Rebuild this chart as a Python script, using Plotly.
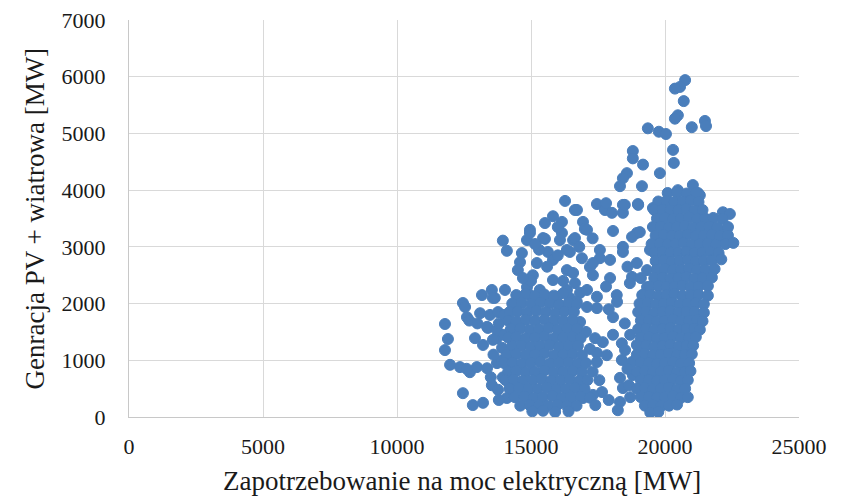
import plotly.graph_objects as go

# (demand MW, PV + wind generation MW)
top_points = [
    (20750, 5940), (20560, 5820), (20370, 5790), (20700, 5570), (20480, 5320), (20370, 5260),
    (21000, 5110), (21490, 5220), (21530, 5130), (19360, 5090), (19770, 5030), (20035, 4990),
    (20300, 4710), (20330, 4480), (18800, 4690), (18800, 4560), (19180, 4450), (19810, 4300),
    (18580, 4300), (18430, 4210), (18320, 4070), (19140, 4070), (20480, 4000), (21040, 4090),
    (21230, 3950), (21300, 3910),
]

upper_mid = [
    (16270, 3810), (16640, 3650), (15820, 3540), (15520, 3420), (16155, 3440), (14960, 3300),
    (14850, 3120), (13950, 3110), (14100, 2930), (15520, 3140), (15630, 2910), (14660, 2890),
    (14590, 2730), (14510, 2590), (15220, 2715), (15070, 2500), (15820, 2770), (16340, 2590),
    (15820, 2415), (16340, 2240), (16640, 2360), (16570, 3120), (16450, 2910), (16155, 3245),
    (14850, 2290), (14030, 2240), (13540, 2240), (13170, 2150), (13650, 2100), (12460, 2010),
    (14960, 2150), (15330, 2240), (15450, 2100), (15970, 2120), (16450, 2100),
    (17460, 3755), (18430, 3740), (18990, 3755), (17760, 3650), (18020, 3600), (18430, 3600),
    (16715, 3650), (16940, 3440), (17010, 3315), (18060, 3280), (18950, 3245), (18770, 3175),
    (16640, 3155), (18430, 3000), (18430, 2910), (17570, 2945), (17570, 2800), (17950, 2770),
    (17200, 2645), (17310, 2500), (17950, 2450), (18770, 2470), (18690, 2360), (19330, 2590),
    (18950, 2715), (19440, 2945), (16830, 2190), (17460, 2120), (19330, 2290), (19180, 2150),
    (17800, 3770), (18500, 3740), (19000, 3740), (19550, 3685), (19060, 3260),
    (22160, 3610), (22420, 3580), (22300, 3300),
    (14960, 3245), (15450, 3155), (16080, 3120), (16340, 2945), (17090, 3300), (17310, 2715),
    (16570, 2540), (17090, 2240), (15300, 2950), (15600, 2650), (16000, 2850), (16900, 2800),
    (16200, 2400), (15000, 2400), (14700, 2450), (17800, 2300), (18200, 2150), (16000, 3350),
    (15150, 3050), (16800, 3000), (17300, 3150), (18600, 2650), (19100, 2450),
]

mid_sparse = [
    (18210, 2030), (16710, 2030), (17460, 1920), (16830, 1675), (16710, 1570), (17390, 1390),
    (17680, 1320), (18060, 1450), (18390, 1300), (18510, 1180), (17460, 1130), (17460, 970),
    (17830, 1090), (18390, 1005), (18320, 690), (18430, 510), (18320, 265), (18240, 120),
    (17650, 440), (17310, 390), (16940, 335), (16570, 210), (18950, 1270), (18770, 970),
    (18800, 740), (18060, 1760), (17090, 1940), (17900, 1900), (18600, 850), (18650, 560),
    (18700, 350), (17900, 300), (17550, 650), (17300, 800), (18500, 1650), (18700, 1450),
    (17050, 1500), (17200, 1200),
]

left_fringe = [
    (11790, 1640), (11900, 1375), (11790, 1180), (12540, 1940), (12610, 1760), (13100, 1830),
    (13470, 1800), (13770, 1850), (12910, 1390), (13210, 1270), (13390, 1570), (13730, 1390),
    (13920, 1220), (11980, 920), (12350, 880), (12720, 790), (12980, 880), (13360, 860),
    (13730, 950), (14140, 1040), (12460, 420), (12830, 210), (13210, 250), (13540, 560),
    (13770, 480), (14100, 335), (14220, 510), (13580, 2100), (13360, 1590), (13730, 1530),
    (13580, 1360), (13800, 1650), (13900, 1000), (13600, 1100), (13500, 700), (13800, 300),
    (12700, 1700), (13000, 1650), (14000, 1800), (14000, 1450), (13950, 700), (12600, 850),
]

left_core = [
    (14450, 2150), (14800, 2170), (15150, 2130), (15500, 2160), (15850, 2140), (16200, 2180),
    (14300, 2000), (14650, 2010), (15000, 1990), (15350, 2020), (15700, 2000), (16050, 1980),
    (16400, 2010), (16700, 1990),
    (14200, 1850), (14500, 1860), (14850, 1840), (15200, 1870), (15550, 1850), (15900, 1830),
    (16250, 1860), (16600, 1850),
    (14150, 1700), (14450, 1690), (14800, 1710), (15150, 1700), (15500, 1720), (15850, 1690),
    (16200, 1700), (16550, 1710),
    (14250, 1550), (14600, 1560), (14950, 1540), (15300, 1550), (15650, 1570), (16000, 1540),
    (16350, 1560), (16700, 1550),
    (14150, 1400), (14450, 1410), (14800, 1390), (15150, 1400), (15500, 1420), (15850, 1390),
    (16200, 1400), (16550, 1410), (16850, 1390),
    (14300, 1250), (14650, 1260), (15000, 1240), (15350, 1250), (15700, 1270), (16050, 1240),
    (16400, 1250), (16750, 1260),
    (14100, 1100), (14450, 1110), (14800, 1090), (15150, 1100), (15500, 1120), (15850, 1090),
    (16200, 1100), (16550, 1110), (16900, 1090),
    (14000, 950), (14300, 960), (14650, 940), (15000, 950), (15350, 970), (15700, 940),
    (16050, 950), (16400, 960), (16750, 940), (17050, 950),
    (14150, 800), (14450, 810), (14800, 790), (15150, 800), (15500, 820), (15850, 790),
    (16200, 800), (16550, 810), (16900, 790),
    (14050, 650), (14350, 660), (14700, 640), (15050, 650), (15400, 670), (15750, 640),
    (16100, 650), (16450, 660), (16800, 640), (17100, 650),
    (14200, 500), (14550, 510), (14900, 490), (15250, 500), (15600, 520), (15950, 490),
    (16300, 500), (16650, 510), (17000, 490),
    (14400, 350), (14750, 360), (15100, 340), (15450, 350), (15800, 370), (16150, 340),
    (16500, 350), (16850, 360), (17200, 340),
    (14600, 200), (14950, 210), (15300, 190), (15650, 200), (16000, 220), (16350, 190),
    (16700, 200), (17400, 210),
    (15050, 100), (15450, 110), (15900, 90), (16400, 100),
]

right_core = [
    (20100, 3950), (20450, 3960), (20800, 3940), (21150, 3950),
    (19750, 3800), (20050, 3810), (20350, 3790), (20650, 3800), (20950, 3820), (21250, 3790),
    (19600, 3650), (19900, 3660), (20200, 3640), (20500, 3650), (20800, 3670), (21100, 3640), (21400, 3650),
    (19700, 3500), (20000, 3510), (20300, 3490), (20600, 3500), (20900, 3520), (21200, 3490),
    (21500, 3500), (21800, 3510), (22150, 3490),
    (19550, 3350), (19850, 3360), (20150, 3340), (20450, 3350), (20750, 3370), (21050, 3340),
    (21350, 3350), (21650, 3360), (21950, 3340), (22350, 3350),
    (19650, 3200), (19950, 3210), (20250, 3190), (20550, 3200), (20850, 3220), (21150, 3190),
    (21450, 3200), (21750, 3210), (22050, 3190), (22350, 3200),
    (19500, 3050), (19800, 3060), (20100, 3040), (20400, 3050), (20700, 3070), (21000, 3040),
    (21300, 3050), (21600, 3060), (21900, 3040), (22250, 3050), (22550, 3070),
    (19600, 2900), (19900, 2910), (20200, 2890), (20500, 2900), (20800, 2920), (21100, 2890),
    (21400, 2900), (21700, 2910), (22000, 2890),
    (19650, 2750), (19950, 2760), (20250, 2740), (20550, 2750), (20850, 2770), (21150, 2740),
    (21450, 2750), (21750, 2760), (22100, 2780),
    (19700, 2600), (20000, 2610), (20300, 2590), (20600, 2600), (20900, 2620), (21200, 2590),
    (21500, 2600), (21850, 2610),
    (19600, 2450), (19900, 2460), (20200, 2440), (20500, 2450), (20800, 2470), (21100, 2440),
    (21400, 2450), (21750, 2460),
    (19450, 2300), (19750, 2310), (20050, 2290), (20350, 2300), (20650, 2320), (20950, 2290),
    (21250, 2300), (21600, 2310),
    (19150, 2150), (19450, 2160), (19750, 2140), (20050, 2150), (20350, 2170), (20650, 2140),
    (20950, 2150), (21250, 2160), (21600, 2140),
    (19050, 2000), (19350, 2010), (19650, 1990), (19950, 2000), (20250, 2020), (20550, 1990),
    (20850, 2000), (21150, 2010), (21450, 1990),
    (19000, 1850), (19300, 1860), (19600, 1840), (19900, 1850), (20200, 1870), (20500, 1840),
    (20800, 1850), (21100, 1860), (21450, 1840),
    (19100, 1700), (19400, 1710), (19700, 1690), (20000, 1700), (20300, 1720), (20600, 1690),
    (20900, 1700), (21200, 1710), (21400, 1690),
    (19000, 1550), (19300, 1560), (19600, 1540), (19900, 1550), (20200, 1570), (20500, 1540),
    (20800, 1550), (21100, 1560), (21300, 1540),
    (19100, 1400), (19400, 1410), (19700, 1390), (20000, 1400), (20300, 1420), (20600, 1390),
    (20900, 1400), (21150, 1410),
    (19000, 1250), (19300, 1260), (19600, 1240), (19900, 1250), (20200, 1270), (20500, 1240),
    (20800, 1250), (21050, 1260),
    (18950, 1100), (19250, 1110), (19550, 1090), (19850, 1100), (20150, 1120), (20450, 1090),
    (20750, 1100), (21000, 1110),
    (19100, 950), (19400, 960), (19700, 940), (20000, 950), (20300, 970), (20600, 940), (20900, 950),
    (18950, 800), (19250, 810), (19550, 790), (19850, 800), (20150, 820), (20450, 790),
    (20750, 800), (20950, 810),
    (19100, 650), (19400, 660), (19700, 640), (20000, 650), (20300, 670), (20600, 640), (20850, 650),
    (18950, 500), (19250, 510), (19550, 490), (19850, 500), (20150, 520), (20450, 490), (20750, 500),
    (19100, 350), (19400, 360), (19700, 340), (20000, 350), (20300, 370), (20600, 340), (20850, 350),
    (19250, 200), (19550, 210), (19850, 190), (20150, 200), (20450, 220),
    (19450, 80), (19750, 90),
]

all_points = top_points + upper_mid + mid_sparse + left_fringe + left_core + right_core
demand = [p[0] for p in all_points]
generation = [p[1] for p in all_points]

x_ticks = [0, 5000, 10000, 15000, 20000, 25000]
y_ticks = [0, 1000, 2000, 3000, 4000, 5000, 6000, 7000]
x_title = "Zapotrzebowanie na moc elektryczną [MW]"
y_title = "Genracja PV + wiatrowa [MW]"

font_family = "Times New Roman, Liberation Serif, serif"
text_color = "#1a1a1a"
grid_color = "#d9d9d9"

fig = go.Figure(
    go.Scatter(
        x=demand,
        y=generation,
        mode="markers",
        marker=dict(size=11, color="#4a7ebb", line=dict(color="#4a7ebb", width=1)),
        hoverinfo="x+y",
    )
)

fig.update_layout(
    width=847,
    height=497,
    autosize=False,
    margin=dict(l=129, r=48, t=20, b=80),
    paper_bgcolor="white",
    plot_bgcolor="white",
    showlegend=False,
    font=dict(family=font_family, color=text_color, size=22),
    annotations=[
        dict(text=x_title, xref="paper", yref="paper", x=0.497, y=-0.161,
             xanchor="center", yanchor="middle", showarrow=False,
             font=dict(size=27, family=font_family, color=text_color)),
        dict(text=y_title, xref="paper", yref="paper", x=-0.1403, y=0.5,
             xanchor="center", yanchor="middle", showarrow=False, textangle=-90,
             font=dict(size=27, family=font_family, color=text_color)),
    ],
)

fig.update_xaxes(
    range=[0, 25000],
    tickvals=x_ticks,
    ticktext=[str(v) for v in x_ticks],
    showgrid=True,
    gridcolor=grid_color,
    gridwidth=1,
    zeroline=False,
    showline=True,
    linecolor="#c8c8c8",
    linewidth=1,
    ticks="",
    ticklabelstandoff=10,
    automargin=False,
    tickfont=dict(size=22, family=font_family, color=text_color),
)
fig.update_yaxes(
    range=[0, 7000],
    tickvals=y_ticks,
    ticktext=[str(v) for v in y_ticks],
    showgrid=True,
    gridcolor=grid_color,
    gridwidth=1,
    zeroline=False,
    showline=True,
    linecolor="#c8c8c8",
    linewidth=1,
    ticks="",
    ticklabelstandoff=18,
    automargin=False,
    tickfont=dict(size=22, family=font_family, color=text_color),
)

fig.write_html("out.html")
